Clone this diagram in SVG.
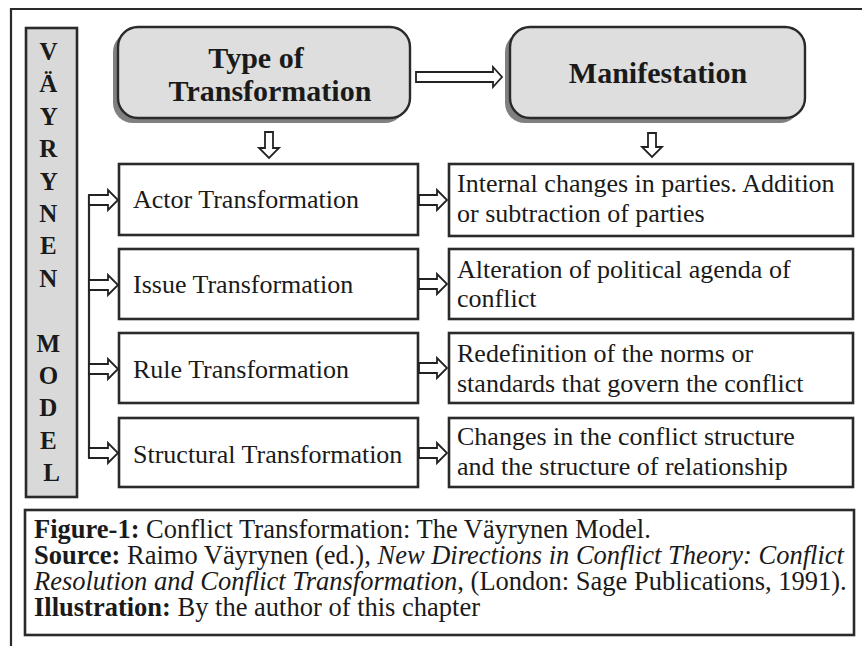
<svg xmlns="http://www.w3.org/2000/svg" width="862" height="646" viewBox="0 0 862 646">
<style>
.t{font-family:"Liberation Serif","Times New Roman",serif;fill:#1a1a1a}
.big{font-size:30px;font-weight:bold;text-anchor:middle}
.vl{font-size:25px;font-weight:bold;text-anchor:middle}
.bt{font-size:26px}
.cap{font-size:26.5px}
.box{fill:#fff;stroke:#2a2a2a;stroke-width:2.6}
.rbox{fill:#dedede;stroke:#2a2a2a;stroke-width:2.4}
.shadow{fill:#808080}
.arr{fill:#fff;stroke:#222;stroke-width:1.8;stroke-linejoin:miter}
.ln{fill:none;stroke:#2a2a2a;stroke-width:2.2}
</style>
<rect width="862" height="646" fill="#fff"/>
<path class="ln" d="M11,646 V9 H862" stroke-width="2.6"/>

<g id="vertical-label">
<rect x="26" y="28" width="51" height="469" fill="#d9d9d9" stroke="#2a2a2a" stroke-width="2.6"/>
<text class="t vl">
<tspan x="51.5" y="60">V</tspan>
<tspan x="51.5" y="92.4">Ä</tspan>
<tspan x="51.5" y="124.8">Y</tspan>
<tspan x="51.5" y="157.2">R</tspan>
<tspan x="51.5" y="189.6">Y</tspan>
<tspan x="51.5" y="222">N</tspan>
<tspan x="51.5" y="254.4">E</tspan>
<tspan x="51.5" y="286.8">N</tspan>
<tspan x="51.5" y="351.6">M</tspan>
<tspan x="51.5" y="384">O</tspan>
<tspan x="51.5" y="416.4">D</tspan>
<tspan x="51.5" y="448.8">E</tspan>
<tspan x="51.5" y="481.2">L</tspan>
</text>
</g>

<g id="type-of-transformation">
<rect class="shadow" x="113" y="32" width="292" height="91" rx="20"/>
<rect class="rbox" x="118" y="27" width="292" height="91" rx="20"/>
<text class="t big" x="256" y="68">Type of</text>
<text class="t big" x="270" y="101">Transformation</text>
</g>

<g id="manifestation">
<rect class="shadow" x="505" y="32" width="295" height="91" rx="20"/>
<rect class="rbox" x="510" y="27" width="295" height="91" rx="20"/>
<text class="t big" x="658" y="83">Manifestation</text>
</g>

<g id="actor-transformation">
<rect class="box" x="119" y="164" width="299" height="71"/>
<text class="t bt" x="133" y="208">Actor Transformation</text>
</g>
<g id="issue-transformation">
<rect class="box" x="119" y="249" width="299" height="70"/>
<text class="t bt" x="133" y="293">Issue Transformation</text>
</g>
<g id="rule-transformation">
<rect class="box" x="119" y="333" width="299" height="70"/>
<text class="t bt" x="133" y="378">Rule Transformation</text>
</g>
<g id="structural-transformation">
<rect class="box" x="119" y="418" width="299" height="69"/>
<text class="t bt" x="133" y="463">Structural Transformation</text>
</g>

<g id="actor-manifestation">
<rect class="box" x="449" y="164" width="404" height="72"/>
<text class="t bt"><tspan x="457" y="192">Internal changes in parties. Addition</tspan><tspan x="457" y="222">or subtraction of parties</tspan></text>
</g>
<g id="issue-manifestation">
<rect class="box" x="449" y="249" width="404" height="70"/>
<text class="t bt"><tspan x="457" y="278">Alteration of political agenda of</tspan><tspan x="457" y="307">conflict</tspan></text>
</g>
<g id="rule-manifestation">
<rect class="box" x="449" y="333" width="404" height="70"/>
<text class="t bt"><tspan x="457" y="362">Redefinition of the norms or</tspan><tspan x="457" y="392">standards that govern the conflict</tspan></text>
</g>
<g id="structural-manifestation">
<rect class="box" x="449" y="418" width="404" height="69"/>
<text class="t bt"><tspan x="457" y="445">Changes in the conflict structure</tspan><tspan x="457" y="475">and the structure of relationship</tspan></text>
</g>

<g id="connectors">
<polygon class="arr" points="416,72 493,72 493,67 502,77 493,87 493,82 416,82"/>
<polygon class="arr" points="265,132 273,132 273,148 279,148 269,158 259,148 265,148"/>
<polygon class="arr" points="648,133 656,133 656,147 662,147 652,157 642,147 648,147"/>
<line class="ln" x1="89" y1="195" x2="89" y2="458"/>
<polygon class="arr" points="89,195 108,195 108,190 118,200 108,210 108,205 89,205"/>
<polygon class="arr" points="89,280 108,280 108,275 118,285 108,295 108,290 89,290"/>
<polygon class="arr" points="89,364 108,364 108,359 118,369 108,379 108,374 89,374"/>
<polygon class="arr" points="89,448 108,448 108,443 118,453 108,463 108,458 89,458"/>
<polygon class="arr" points="419,195 437,195 437,190 447,200 437,210 437,205 419,205"/>
<polygon class="arr" points="419,279 437,279 437,274 447,284 437,294 437,289 419,289"/>
<polygon class="arr" points="419,363 437,363 437,358 447,368 437,378 437,373 419,373"/>
<polygon class="arr" points="419,448 437,448 437,443 447,453 437,463 437,458 419,458"/>
</g>

<g id="caption">
<rect class="box" x="25" y="510" width="829" height="125"/>
<text class="t cap" x="34" y="538"><tspan font-weight="bold">Figure-1:</tspan> Conflict Transformation: The Väyrynen Model.</text>
<text class="t cap" x="34" y="564"><tspan font-weight="bold">Source:</tspan> Raimo Väyrynen (ed.), <tspan font-style="italic">New Directions in Conflict Theory: Conflict</tspan></text>
<text class="t cap" x="34" y="590"><tspan font-style="italic">Resolution and Conflict Transformation</tspan>, (London: Sage Publications, 1991).</text>
<text class="t cap" x="34" y="616"><tspan font-weight="bold">Illustration:</tspan> By the author of this chapter</text>
</g>
</svg>
